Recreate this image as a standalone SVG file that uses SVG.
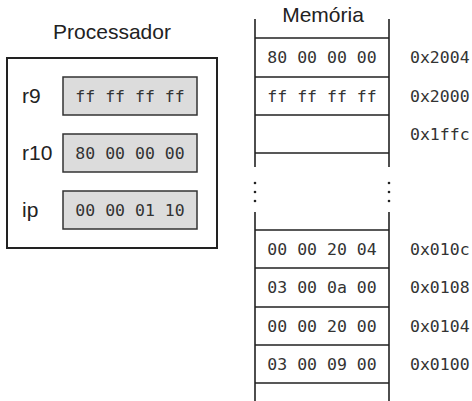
<svg xmlns="http://www.w3.org/2000/svg" width="472" height="401" viewBox="0 0 472 401">
<style>
.sans{font-family:"Liberation Sans",Arial,sans-serif;font-size:21px;fill:#222}
.mono{font-family:"DejaVu Sans Mono",monospace;font-size:16.5px;fill:#333}
.reg{fill:#dcdcdc;stroke:#333;stroke-width:1.5}
.ln{stroke:#222;stroke-width:1.6;fill:none}
.dot{fill:#222}
</style>
<rect width="472" height="401" fill="#fff"/>
<g id="processador">
<text class="sans" x="112" y="39" text-anchor="middle">Processador</text>
<rect x="7" y="58" width="210" height="190" fill="none" stroke="#222" stroke-width="2"/>
</g>
<g id="r9">
<text class="sans" x="22" y="103">r9</text>
<rect class="reg" x="63" y="77" width="134" height="38"/>
<text class="mono" x="130" y="102" text-anchor="middle">ff ff ff ff</text>
</g>
<g id="r10">
<text class="sans" x="22" y="160">r10</text>
<rect class="reg" x="63" y="134" width="134" height="38"/>
<text class="mono" x="130" y="159" text-anchor="middle">80 00 00 00</text>
</g>
<g id="ip">
<text class="sans" x="22" y="217">ip</text>
<rect class="reg" x="63" y="191" width="134" height="38"/>
<text class="mono" x="130" y="216" text-anchor="middle">00 00 01 10</text>
</g>
<g id="memoria">
<text class="sans" x="323" y="22" text-anchor="middle">Memória</text>
<path class="ln" d="M255 19V167M389 19V167M255 212V401M389 212V401M255 38H389M255 77H389M255 115H389M255 153H389M255 230H389M255 268H389M255 307H389M255 345H389M255 383H389"/>
<circle class="dot" cx="255" cy="183" r="1.3"/><circle class="dot" cx="255" cy="192" r="1.3"/><circle class="dot" cx="255" cy="201" r="1.3"/>
<circle class="dot" cx="389" cy="183" r="1.3"/><circle class="dot" cx="389" cy="192" r="1.3"/><circle class="dot" cx="389" cy="201" r="1.3"/>
<text class="mono" x="322" y="63" text-anchor="middle">80 00 00 00</text>
<text class="mono" x="322" y="102" text-anchor="middle">ff ff ff ff</text>
<text class="mono" x="322" y="255" text-anchor="middle">00 00 20 04</text>
<text class="mono" x="322" y="293" text-anchor="middle">03 00 0a 00</text>
<text class="mono" x="322" y="332" text-anchor="middle">00 00 20 00</text>
<text class="mono" x="322" y="370" text-anchor="middle">03 00 09 00</text>
<text class="mono" x="410" y="63">0x2004</text>
<text class="mono" x="410" y="102">0x2000</text>
<text class="mono" x="410" y="140">0x1ffc</text>
<text class="mono" x="410" y="255">0x010c</text>
<text class="mono" x="410" y="293">0x0108</text>
<text class="mono" x="410" y="332">0x0104</text>
<text class="mono" x="410" y="370">0x0100</text>
</g>
<g id="connectors"></g>
</svg>
